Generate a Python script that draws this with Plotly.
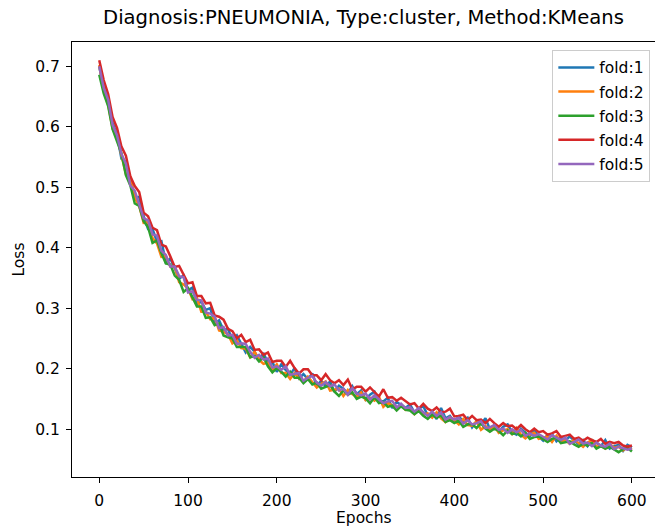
import plotly.graph_objects as go

epochs = list(range(0, 601, 5))

fold1 = [0.700,0.663,0.648,0.606,0.587,0.547,0.542,0.514,0.483,0.484,
0.452,0.431,0.431,0.410,0.411,0.376,0.382,0.366,0.349,0.354,
0.330,0.334,0.306,0.311,0.297,0.300,0.275,0.280,0.264,0.266,
0.247,0.255,0.240,0.227,0.236,0.228,0.213,0.226,0.209,0.211,
0.195,0.207,0.198,0.190,0.201,0.184,0.191,0.183,0.192,0.172,
0.180,0.171,0.179,0.162,0.172,0.167,0.159,0.171,0.158,0.164,
0.149,0.157,0.162,0.146,0.146,0.152,0.135,0.145,0.140,0.135,
0.141,0.128,0.134,0.138,0.123,0.127,0.117,0.135,0.118,0.122,
0.112,0.121,0.113,0.119,0.103,0.113,0.108,0.118,0.100,0.106,
0.096,0.104,0.108,0.095,0.091,0.101,0.094,0.088,0.098,0.088,
0.081,0.091,0.092,0.080,0.087,0.081,0.088,0.081,0.075,0.082,
0.072,0.082,0.078,0.072,0.082,0.068,0.072,0.074,0.064,0.074,
0.070]

fold2 = [0.702,0.660,0.637,0.597,0.584,0.552,0.522,0.517,0.483,0.469,
0.441,0.442,0.416,0.407,0.385,0.386,0.369,0.369,0.343,0.339,
0.333,0.315,0.317,0.294,0.294,0.282,0.285,0.263,0.261,0.257,
0.242,0.247,0.234,0.233,0.219,0.228,0.215,0.208,0.210,0.197,
0.207,0.193,0.193,0.183,0.193,0.184,0.179,0.187,0.178,0.169,
0.175,0.179,0.164,0.165,0.167,0.155,0.165,0.158,0.153,0.161,
0.148,0.152,0.147,0.154,0.137,0.144,0.139,0.134,0.140,0.132,
0.133,0.125,0.134,0.124,0.126,0.119,0.128,0.118,0.112,0.120,
0.115,0.108,0.117,0.107,0.106,0.113,0.099,0.105,0.100,0.106,
0.094,0.098,0.100,0.092,0.102,0.091,0.085,0.091,0.094,0.084,
0.086,0.088,0.079,0.089,0.080,0.082,0.076,0.083,0.077,0.071,
0.078,0.082,0.071,0.073,0.068,0.076,0.069,0.071,0.065,0.071,
0.066]

fold3 = [0.686,0.655,0.634,0.596,0.576,0.556,0.520,0.503,0.473,0.469,
0.444,0.434,0.408,0.412,0.391,0.374,0.372,0.354,0.347,0.327,
0.333,0.317,0.303,0.303,0.284,0.285,0.272,0.275,0.255,0.252,
0.250,0.236,0.236,0.236,0.219,0.221,0.212,0.219,0.204,0.194,
0.201,0.195,0.187,0.195,0.185,0.185,0.176,0.183,0.174,0.177,
0.167,0.170,0.173,0.162,0.155,0.164,0.157,0.161,0.150,0.154,
0.151,0.143,0.153,0.143,0.145,0.137,0.139,0.131,0.138,0.132,
0.131,0.125,0.130,0.122,0.117,0.124,0.119,0.123,0.112,0.115,
0.110,0.114,0.104,0.108,0.108,0.102,0.110,0.101,0.096,0.101,
0.097,0.090,0.098,0.092,0.094,0.088,0.094,0.084,0.087,0.088,
0.083,0.079,0.084,0.086,0.077,0.079,0.080,0.075,0.071,0.076,
0.073,0.077,0.068,0.072,0.068,0.071,0.067,0.062,0.067,0.069,
0.063]

fold4 = [0.710,0.677,0.654,0.616,0.598,0.567,0.552,0.518,0.502,0.492,
0.458,0.452,0.433,0.429,0.405,0.402,0.386,0.368,0.370,0.356,
0.341,0.343,0.320,0.320,0.308,0.309,0.288,0.286,0.281,0.266,
0.262,0.250,0.256,0.244,0.248,0.231,0.232,0.223,0.227,0.211,
0.213,0.213,0.203,0.213,0.201,0.192,0.199,0.199,0.189,0.189,
0.181,0.191,0.181,0.176,0.181,0.173,0.182,0.166,0.170,0.170,
0.162,0.169,0.161,0.154,0.166,0.152,0.153,0.147,0.152,0.146,
0.141,0.143,0.134,0.142,0.134,0.130,0.136,0.128,0.129,0.134,
0.121,0.122,0.124,0.115,0.122,0.115,0.116,0.110,0.117,0.110,
0.104,0.110,0.105,0.106,0.100,0.107,0.100,0.095,0.101,0.095,
0.097,0.091,0.093,0.097,0.087,0.089,0.091,0.084,0.086,0.081,
0.086,0.082,0.079,0.084,0.076,0.079,0.077,0.079,0.073,0.071,
0.073]

fold5 = [0.700,0.664,0.645,0.603,0.586,0.555,0.539,0.503,0.494,0.470,
0.449,0.445,0.422,0.420,0.395,0.388,0.369,0.369,0.353,0.351,
0.326,0.328,0.314,0.313,0.293,0.291,0.286,0.267,0.269,0.255,
0.256,0.241,0.242,0.241,0.228,0.218,0.223,0.215,0.217,0.202,
0.204,0.198,0.204,0.190,0.191,0.193,0.180,0.185,0.188,0.177,
0.172,0.178,0.171,0.174,0.164,0.167,0.157,0.168,0.159,0.156,
0.159,0.149,0.156,0.149,0.143,0.146,0.147,0.136,0.142,0.135,
0.136,0.129,0.135,0.128,0.122,0.129,0.122,0.128,0.116,0.120,
0.116,0.119,0.109,0.115,0.108,0.110,0.113,0.102,0.103,0.107,
0.099,0.101,0.094,0.100,0.095,0.099,0.089,0.093,0.089,0.092,
0.087,0.083,0.090,0.086,0.082,0.086,0.076,0.079,0.083,0.076,
0.078,0.072,0.078,0.073,0.071,0.076,0.067,0.071,0.068,0.066,
0.068]

fold_names = ["fold:1", "fold:2", "fold:3", "fold:4", "fold:5"]
fold_values = [fold1, fold2, fold3, fold4, fold5]
colors = ["#1f77b4", "#ff7f0e", "#2ca02c", "#d62728", "#9467bd"]

x_ticks = [0, 100, 200, 300, 400, 500, 600]
y_ticks = [0.1, 0.2, 0.3, 0.4, 0.5, 0.6, 0.7]

FONT = "DejaVu Sans"
BASE = 15.5

fig = go.Figure()
for name, vals, col in zip(fold_names, fold_values, colors):
    fig.add_trace(go.Scatter(
        x=epochs, y=vals, mode="lines", name=name, legendgroup=name,
        line=dict(color=col, width=2.5),
    ))

fig.update_layout(
    width=655, height=529,
    margin=dict(l=72, r=0, t=42, b=52),
    paper_bgcolor="white", plot_bgcolor="white",
    font=dict(family=FONT, size=BASE, color="black"),
    title=dict(text="Diagnosis:PNEUMONIA, Type:cluster, Method:KMeans",
               x=0.5, xref="paper", xanchor="center",
               y=1, yref="container", yanchor="top", pad=dict(t=10),
               font=dict(family=FONT, size=19.6, color="black")),
    showlegend=True,
    legend=dict(x=0.992, xanchor="right", y=0.982, yanchor="top",
                bgcolor="white", bordercolor="#cccccc", borderwidth=1,
                tracegroupgap=1, itemwidth=36,
                font=dict(family=FONT, size=BASE)),
    annotations=[
        dict(text="Loss", xref="paper", yref="paper", x=-0.0926, y=0.5,
             xanchor="center", yanchor="middle", textangle=-90, showarrow=False,
             font=dict(family=FONT, size=BASE, color="black")),
        dict(text="Epochs", xref="paper", yref="paper", x=0.5, y=-0.0935,
             xanchor="center", yanchor="middle", showarrow=False,
             font=dict(family=FONT, size=BASE, color="black")),
    ],
)

fig.update_xaxes(
    range=[-30.7, 626], tickvals=x_ticks, ticktext=[str(t) for t in x_ticks],
    showgrid=False, zeroline=False, automargin=False,
    showline=True, linecolor="black", linewidth=1, mirror=True,
    ticks="outside", ticklen=5, tickwidth=1, tickcolor="black",
    ticklabelstandoff=4,
    tickfont=dict(family=FONT, size=BASE),
)
fig.update_yaxes(
    range=[0.021, 0.740], tickvals=y_ticks, ticktext=[f"{t:.1f}" for t in y_ticks],
    showgrid=False, zeroline=False, automargin=False,
    showline=True, linecolor="black", linewidth=1, mirror=False,
    ticks="outside", ticklen=5, tickwidth=1, tickcolor="black",
    ticklabelstandoff=3,
    tickfont=dict(family=FONT, size=BASE),
)

fig.write_html("out.html", config={"displayModeBar": False},
               post_script="document.body.style.margin='0px';")
